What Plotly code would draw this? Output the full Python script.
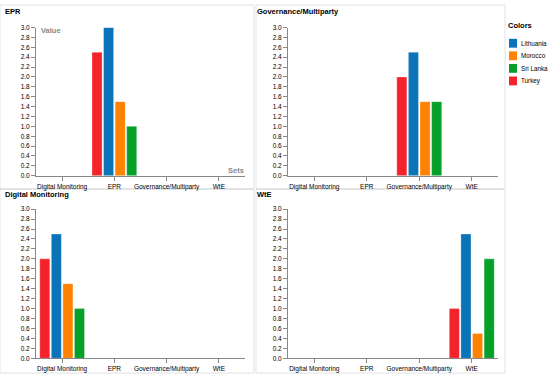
import plotly.graph_objects as go

categories = ["Digital Monitoring", "EPR", "Governance/Multiparty", "WtE"]
panels = ["EPR", "Governance/Multiparty", "Digital Monitoring", "WtE"]
countries = ["Turkey", "Lithuania", "Morocco", "Sri Lanka"]
legend_order = ["Lithuania", "Morocco", "Sri Lanka", "Turkey"]
colors = {"Turkey": "#f4222b", "Lithuania": "#0b73b8", "Morocco": "#ff8200", "Sri Lanka": "#04a02a"}
values = {
    "EPR": [2.5, 3.0, 1.5, 1.0],
    "Governance/Multiparty": [2.0, 2.5, 1.5, 1.5],
    "Digital Monitoring": [2.0, 2.5, 1.5, 1.0],
    "WtE": [1.0, 2.5, 0.5, 2.0],
}
y_ticks = [0.0, 0.2, 0.4, 0.6, 0.8, 1.0, 1.2, 1.4, 1.6, 1.8, 2.0, 2.2, 2.4, 2.6, 2.8, 3.0]

W, H = 550, 378
def px(x): return x / W
def py(y): return 1 - y / H

# plot area pixel boxes (left, right, top, bottom)
boxes = [(36, 245, 24, 175), (288, 498, 24, 175), (36, 245, 209, 361), (288, 498, 209, 361)]
title_pos = [(3, 8), (255, 8), (3, 194), (255, 194)]
frames = [(0, 254, 1, 188), (256, 505, 1, 188), (0, 254, 189, 376), (256, 505, 189, 376)]

fig = go.Figure()
layout = {}
for i, p in enumerate(panels):
    n = "" if i == 0 else str(i + 1)
    for j, c in enumerate(countries):
        fig.add_trace(go.Bar(
            x=[p], y=[values[p][j]], name=c, offsetgroup=c,
            marker=dict(color=colors[c], line=dict(width=0.6, color="rgba(255,255,255,0.5)")),
            xaxis="x" + n, yaxis="y" + n, showlegend=False,
            hovertemplate=c + ": %{y}<extra></extra>",
        ))
    l, r, t, b = boxes[i]
    layout["xaxis" + n] = dict(
        domain=[px(l), px(r)], anchor="y" + n, type="category",
        categoryorder="array", categoryarray=categories, range=[-0.5, 3.5],
        showline=True, linecolor="#888", linewidth=1, ticks="outside", ticklen=4,
        tickcolor="#888", showgrid=False, tickfont=dict(size=6.5, color="#000"),
        zeroline=False, fixedrange=True,
    )
    layout["yaxis" + n] = dict(
        domain=[py(b), py(t)], anchor="x" + n, range=[0, 3.0],
        tickvals=y_ticks, ticktext=[f"{v:.1f}" for v in y_ticks],
        showline=True, linecolor="#888", linewidth=1, ticks="outside", ticklen=4,
        tickcolor="#888", showgrid=False, zeroline=False,
        tickfont=dict(size=6.5, color="#000"), fixedrange=True,
    )

annotations = []
shapes = []
for i, p in enumerate(panels):
    tx, ty = title_pos[i]
    annotations.append(dict(x=px(tx), y=py(ty), xref="paper", yref="paper", text="<b>" + p + "</b>",
                            showarrow=False, xanchor="left", yanchor="middle",
                            font=dict(size=7.5, color="#000")))
    fx0, fx1, fy0, fy1 = frames[i]
    shapes.append(dict(type="rect", xref="paper", yref="paper", x0=px(fx0), x1=px(fx1), y0=py(fy1), y1=py(fy0),
                       line=dict(color="#e2e2e2", width=1), fillcolor="rgba(0,0,0,0)", layer="below"))

annotations.append(dict(x=px(39), y=py(27), xref="paper", yref="paper", text="<b>Value</b>", showarrow=False,
                        xanchor="left", yanchor="middle", font=dict(size=7.5, color="#888")))
annotations.append(dict(x=px(246), y=py(170), xref="paper", yref="paper", text="<b>Sets</b>", showarrow=False,
                        xanchor="right", yanchor="middle", font=dict(size=7.5, color="#888")))

# legend
annotations.append(dict(x=px(506), y=py(22), xref="paper", yref="paper", text="<b>Colors</b>", showarrow=False,
                        xanchor="left", yanchor="middle", font=dict(size=7.5, color="#000")))
for k, c in enumerate(legend_order):
    yc = 40 + k * 12.8
    shapes.append(dict(type="rect", xref="paper", yref="paper", x0=px(509), x1=px(517), y0=py(yc + 4.5), y1=py(yc - 4.5),
                       fillcolor=colors[c], line=dict(width=0)))
    annotations.append(dict(x=px(519), y=py(yc), xref="paper", yref="paper", text=c, showarrow=False,
                            xanchor="left", yanchor="middle", font=dict(size=6.3, color="#000")))

fig.update_layout(
    width=W, height=H, margin=dict(l=0, r=0, t=0, b=0),
    paper_bgcolor="white", plot_bgcolor="white",
    barmode="group", bargap=0.115, bargroupgap=0.13,
    font=dict(family="Liberation Sans, Arial, sans-serif"),
    annotations=annotations, shapes=shapes, showlegend=False,
    **layout,
)
fig.write_html("out.html", config={"displayModeBar": False},
               post_script="document.body.style.margin='0';document.body.style.overflow='hidden';")
